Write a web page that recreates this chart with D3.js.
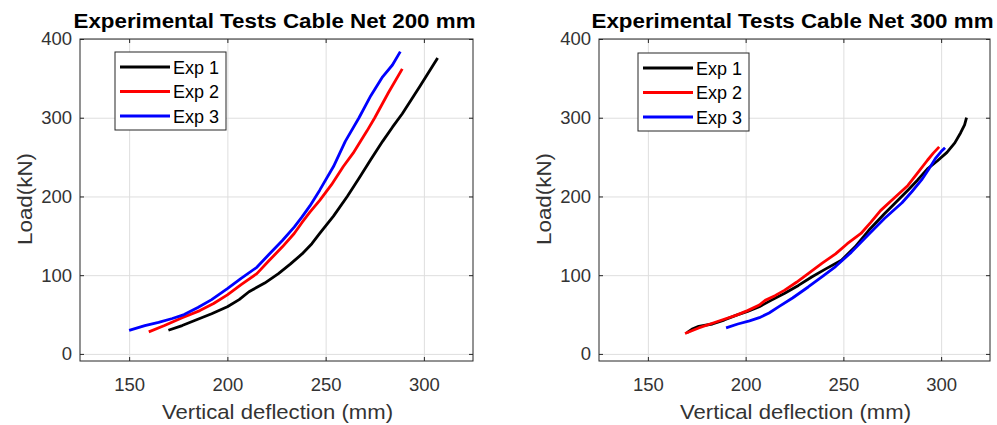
<!DOCTYPE html>
<html>
<head>
<meta charset="utf-8">
<script src="https://cdn.jsdelivr.net/npm/d3@7"></script>
<style>
  body { margin: 0; background: #fff; }
  svg { display: block; font-family: "Liberation Sans", Arial, sans-serif; }
  .tick text { font-size: 18.5px; fill: #333; }
  .grid line { stroke: #dedede; stroke-width: 1; }
  .grid path, .axis path { display: none; }
  .axis line { stroke: #262626; }
</style>
</head>
<body>
<div class="demo"></div>
<script>
const w = 997, h = 425;

// data: [deflection mm, load kN]
const seriesNames = ['Exp 1', 'Exp 2', 'Exp 3'];
const seriesColors = ['#000000', '#ff0000', '#0000ff'];
const xTicks = [150, 200, 250, 300];
const yTicks = [0, 100, 200, 300, 400];
const titles = ['Experimental Tests Cable Net 200 mm', 'Experimental Tests Cable Net 300 mm'];

const exp1_200 = [[170,30],[177,36],[184,43],[192,51],[200,60],[206,69],[211,79],[219,90],[226,102],[232,114],[238,127],[243,140],[247,153],[254,175],[261,200],[267,223],[273,247],[279,270],[284,288],[289,305],[298,340],[307,376]];
const exp2_200 = [[160,28],[168,36],[177,46],[186,55],[193,64],[200,75],[207,88],[215,102],[221,118],[228,136],[234,153],[238,167],[242,180],[247,195],[253,215],[259,238],[264,255],[268,271],[271,283],[275,300],[282,332],[289,362]];
const exp3_200 = [[150,30],[158,36],[165,40],[172,45],[178,50],[185,59],[192,69],[200,83],[207,96],[215,110],[221,126],[228,144],[234,161],[238,174],[242,188],[247,208],[254,238],[260,270],[267,300],[273,328],[279,352],[284,367],[288,384]];

const exp1_300 = [[170,27],[173,32],[176,35],[183,38],[189,43],[195,49],[201,54],[207,60],[213,68],[220,77],[227,87],[234,98],[241,108],[249,119],[256,136],[263,157],[271,178],[277,193],[283,208],[288,221],[293,235],[298,245],[303,256],[307,268],[310,281],[312,291],[313,300]];
const exp2_300 = [[169,26],[176,33],[183,39],[189,44],[195,49],[201,55],[207,62],[210,68],[215,74],[220,81],[226,91],[232,102],[239,115],[246,127],[252,140],[259,153],[264,167],[269,182],[276,198],[283,214],[288,230],[293,246],[296,255],[299,263]];
const exp3_300 = [[190,33],[196,38],[202,42],[207,46],[212,52],[217,60],[224,71],[232,85],[239,98],[246,111],[254,129],[263,152],[271,172],[280,192],[285,206],[290,221],[294,236],[297,248],[300,257],[302,262]];

const panels = [
  { left: 80, right: 473, legendX: 115, legendY: 52, title: titles[0], series: [exp1_200, exp2_200, exp3_200] },
  { left: 599, right: 990, legendX: 638, legendY: 53, title: titles[1], series: [exp1_300, exp2_300, exp3_300] }
];
const plotTop = 39, plotBottom = 361;

let svg = d3.select('.demo').append('svg').attr('width', w).attr('height', h);

panels.forEach(function(p) {
    let xScale = d3.scaleLinear().domain([125, 325]).range([p.left, p.right]);
    let yScale = d3.scaleLinear().domain([-9, 400]).range([plotBottom, plotTop]);
    let g = svg.append('g');

    // grid
    g.append('g').attr('class', 'grid')
       .attr('transform', 'translate(0,' + plotBottom + ')')
       .call(d3.axisBottom(xScale).tickValues(xTicks).tickFormat('').tickSize(-(plotBottom - plotTop)));
    g.append('g').attr('class', 'grid')
       .attr('transform', 'translate(' + p.left + ',0)')
       .call(d3.axisLeft(yScale).tickValues(yTicks).tickFormat('').tickSize(-(p.right - p.left)));

    // curves
    let line = d3.line().x(function(d){ return xScale(d[0]) }).y(function(d){ return yScale(d[1]) });
    g.selectAll('path.curve').data(p.series).enter()
       .append('path').attr('class', 'curve')
       .attr('d', line)
       .attr('fill', 'none')
       .attr('stroke', function(d, i){ return seriesColors[i] })
       .attr('stroke-width', 2.8)
       .attr('stroke-linejoin', 'round');

    // axes, ticks pointing inward on all sides
    g.append('g').attr('class', 'axis')
       .attr('transform', 'translate(0,' + plotBottom + ')')
       .call(d3.axisBottom(xScale).tickValues(xTicks).tickSize(-4).tickPadding(17));
    g.append('g').attr('class', 'axis')
       .attr('transform', 'translate(0,' + plotTop + ')')
       .call(d3.axisTop(xScale).tickValues(xTicks).tickSize(-4).tickFormat(''));
    g.append('g').attr('class', 'axis')
       .attr('transform', 'translate(' + p.left + ',0)')
       .call(d3.axisLeft(yScale).tickValues(yTicks).tickSize(-4).tickPadding(8));
    g.append('g').attr('class', 'axis')
       .attr('transform', 'translate(' + p.right + ',0)')
       .call(d3.axisRight(yScale).tickValues(yTicks).tickSize(-4).tickFormat(''));

    g.append('rect')
       .attr('x', p.left).attr('y', plotTop)
       .attr('width', p.right - p.left).attr('height', plotBottom - plotTop)
       .attr('fill', 'none').attr('stroke', '#262626').attr('stroke-width', 1);

    // title and labels (the picture's text is a little wider than Arial)
    g.append('text')
       .attr('x', (p.left + p.right) / 2 - 2).attr('y', 28)
       .attr('text-anchor', 'middle')
       .attr('font-size', '19.5px').attr('font-weight', 'bold')
       .attr('textLength', 402).attr('lengthAdjust', 'spacingAndGlyphs')
       .attr('fill', '#000')
       .text(p.title);
    g.append('text')
       .attr('x', (p.left + p.right) / 2 + 1).attr('y', 419)
       .attr('text-anchor', 'middle')
       .attr('font-size', '20.5px')
       .attr('textLength', 231).attr('lengthAdjust', 'spacingAndGlyphs')
       .attr('fill', '#333')
       .text('Vertical deflection (mm)');
    g.append('text')
       .attr('transform', 'translate(' + (p.left - 48) + ',' + 199 + ') rotate(-90)')
       .attr('text-anchor', 'middle')
       .attr('font-size', '20.5px')
       .attr('textLength', 92).attr('lengthAdjust', 'spacingAndGlyphs')
       .attr('fill', '#333')
       .text('Load(kN)');

    // legend
    let lg = g.append('g').attr('transform', 'translate(' + p.legendX + ',' + p.legendY + ')');
    lg.append('rect')
       .attr('width', 111).attr('height', 78)
       .attr('fill', '#fff').attr('stroke', '#262626').attr('stroke-width', 1);
    seriesNames.forEach(function(name, i) {
        let y = 15 + i * 24.5;
        lg.append('line')
           .attr('x1', 5).attr('x2', 55).attr('y1', y).attr('y2', y)
           .attr('stroke', seriesColors[i]).attr('stroke-width', 2.8);
        lg.append('text')
           .attr('x', 58).attr('y', y + 6.5)
           .attr('font-size', '18px').attr('fill', '#000')
           .text(name);
    });
});
</script>
</body>
</html>
